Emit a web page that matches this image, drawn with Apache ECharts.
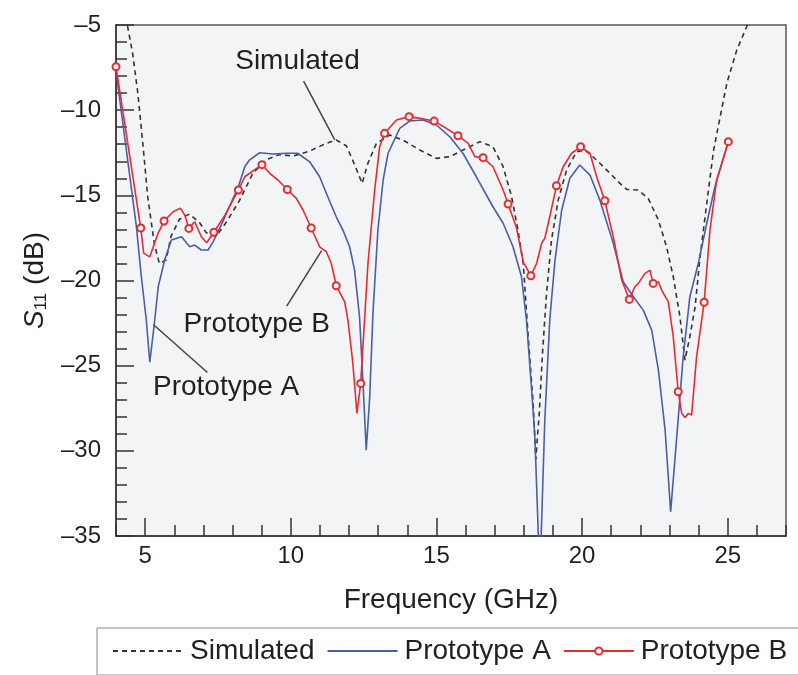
<!DOCTYPE html>
<html>
<head>
<meta charset="utf-8">
<script src="https://cdn.jsdelivr.net/npm/echarts@6/dist/echarts.min.js"></script>
<style>
html,body{margin:0;padding:0;background:#fff;}
#chart{width:798px;height:675px;}
</style>
</head>
<body>
<div id="chart"></div>
<script>
// ---- data (frequency GHz, S11 dB) ----
const simulated = [[4.2,-3.5],[4.40,-5.1],[4.57,-6.66],[4.75,-9.0],[4.92,-11.95],[5.09,-15.1],[5.32,-17.9],[5.49,-19.0],[5.72,-18.8],[5.89,-17.4],[6.18,-16.4],[6.52,-16.1],[6.87,-16.6],[7.10,-17.2],[7.44,-17.4],[7.78,-16.6],[8.24,-15.3],[8.70,-13.7],[9.16,-12.9],[9.62,-12.6],[10.07,-12.7],[10.65,-12.4],[11.22,-11.95],[11.56,-11.75],[11.91,-12.1],[12.19,-13.2],[12.45,-14.3],[12.65,-13.1],[12.94,-11.95],[13.40,-11.46],[13.85,-11.75],[14.43,-12.34],[15.0,-12.83],[15.46,-12.73],[15.91,-12.34],[16.49,-11.85],[16.94,-12.15],[17.29,-13.32],[17.58,-15.08],[17.80,-17.04],[17.98,-18.99],[18.15,-23.3],[18.32,-27.2],[18.41,-30.5],[18.53,-27.8],[18.64,-24.3],[18.78,-20.75],[18.95,-17.62],[19.18,-15.28],[19.47,-13.51],[19.81,-12.44],[20.10,-12.34],[20.5,-12.93],[20.96,-13.71],[21.30,-14.3],[21.53,-14.65],[21.93,-14.69],[22.27,-15.18],[22.62,-16.45],[22.90,-18.02],[23.13,-19.78],[23.36,-22.13],[23.53,-24.67],[23.70,-23.3],[23.88,-21.54],[24.05,-18.61],[24.28,-15.47],[24.51,-12.4],[24.68,-10.9],[24.97,-8.42],[25.31,-6.47],[25.65,-5.1],[25.9,-3.8]];

const protoA = [[4.0,-7.7],[4.70,-16.84],[4.87,-19.78],[5.04,-22.32],[5.16,-24.8],[5.33,-22.32],[5.45,-20.37],[5.67,-18.8],[5.90,-17.62],[6.25,-17.43],[6.53,-18.02],[6.70,-17.92],[6.93,-18.21],[7.16,-18.21],[7.34,-17.72],[7.74,-16.26],[8.20,-14.49],[8.42,-13.32],[8.58,-12.93],[8.93,-12.5],[9.38,-12.57],[9.85,-12.53],[10.24,-12.53],[10.65,-13.03],[10.99,-13.91],[11.27,-15.08],[11.56,-16.26],[11.79,-17.04],[12.02,-18.02],[12.19,-19.39],[12.36,-22.13],[12.48,-26.04],[12.59,-29.96],[12.71,-26.83],[12.82,-21.93],[12.99,-17.04],[13.17,-14.10],[13.34,-12.53],[13.74,-11.07],[14.08,-10.64],[14.54,-10.58],[15.0,-10.87],[15.46,-11.56],[15.91,-12.53],[16.37,-13.91],[16.94,-15.67],[17.29,-16.64],[17.63,-18.02],[17.92,-19.78],[18.09,-22.32],[18.26,-26.24],[18.38,-29.18],[18.55,-37.5],[18.72,-28.19],[18.89,-22.32],[19.07,-18.8],[19.30,-15.86],[19.58,-14.0],[19.92,-13.22],[20.27,-13.81],[20.61,-15.28],[21.07,-17.82],[21.41,-20.07],[21.76,-20.95],[22.10,-21.74],[22.39,-22.91],[22.62,-25.26],[22.85,-28.78],[23.04,-33.58],[23.25,-29.18],[23.47,-24.48],[23.70,-20.95],[23.99,-18.99],[24.28,-16.64],[24.56,-14.49],[25.02,-11.85]];

const protoB = [[4.0,-7.45],[4.85,-16.92],[4.95,-18.39],[5.16,-18.61],[5.45,-17.2],[5.65,-16.51],[5.96,-15.96],[6.21,-15.75],[6.36,-16.16],[6.50,-16.94],[6.70,-16.55],[6.93,-17.43],[7.11,-17.78],[7.36,-17.17],[7.74,-16.16],[8.20,-14.69],[8.42,-13.91],[9.01,-13.2],[9.27,-13.69],[9.62,-14.2],[9.88,-14.66],[10.19,-15.18],[10.42,-15.86],[10.70,-16.92],[10.99,-18.02],[11.22,-18.31],[11.39,-18.99],[11.56,-20.31],[11.85,-21.25],[11.96,-22.32],[12.13,-24.85],[12.27,-27.8],[12.40,-26.04],[12.65,-18.99],[12.88,-14.69],[13.05,-12.15],[13.22,-11.36],[13.63,-10.58],[14.06,-10.38],[14.43,-10.48],[14.92,-10.64],[15.34,-11.07],[15.74,-11.5],[16.09,-11.95],[16.32,-12.73],[16.60,-12.79],[16.94,-13.32],[17.29,-14.69],[17.46,-15.51],[17.75,-16.92],[17.98,-18.92],[18.24,-19.72],[18.44,-18.99],[18.61,-17.82],[18.72,-17.52],[18.89,-16.26],[19.12,-14.44],[19.35,-13.32],[19.64,-12.53],[19.95,-12.15],[20.27,-12.53],[20.50,-13.91],[20.78,-15.32],[21.07,-17.43],[21.36,-19.97],[21.62,-21.11],[21.81,-20.37],[21.93,-20.17],[22.16,-19.58],[22.33,-19.39],[22.44,-20.17],[22.62,-20.07],[22.73,-20.56],[22.96,-21.25],[23.13,-23.3],[23.30,-26.53],[23.42,-27.8],[23.53,-28.04],[23.65,-27.8],[23.76,-27.9],[23.93,-24.48],[24.19,-21.28],[24.39,-17.04],[24.62,-14.1],[25.02,-11.85]];

const protoBMarkerFreqs = [4.0,4.85,5.65,6.50,7.36,8.20,9.01,9.88,10.70,11.56,12.40,13.22,14.06,14.92,15.74,16.60,17.46,18.24,19.12,19.95,20.78,21.62,22.44,23.30,24.19,25.02];

const xMajorTicks = [5,10,15,20,25];
const seriesNames = ['Simulated','Prototype A','Prototype B'];

// annotation labels and leader lines (data coordinates)
const annotTexts = [
  {text:'Simulated', at:[10.23,-7.15]},
  {text:'Prototype B', at:[8.83,-22.55]},
  {text:'Prototype A', at:[7.78,-26.25]}
];
const annotLines = [
  [[10.44,-8.3],[11.51,-11.75]],
  [[11.06,-18.25],[9.86,-21.5]],
  [[5.29,-22.6],[7.14,-25.4]]
];

const FONT = "'Liberation Sans', Arial, Helvetica, sans-serif";
const TXT = '#231f20';
const markerSet = new Set(protoBMarkerFreqs);

const chart = echarts.init(document.getElementById('chart'), null, {renderer:'canvas'});

const option = {
  animation: false,
  backgroundColor: '#ffffff',
  textStyle: {fontFamily: FONT},
  grid: {left:116, top:25, right:12, bottom:139, show:true, backgroundColor:'#f3f4f6', borderColor:'#555', borderWidth:1.5},
  legend: {
    data: [
      {name: seriesNames[0], itemStyle:{opacity:0}},
      {name: seriesNames[1], itemStyle:{opacity:0}},
      {name: seriesNames[2]}
    ],
    left: 97, top: 628, width: 720,
    itemWidth: 70, itemHeight: 9, itemGap: 12,
    padding: [9, 30, 10, 15],
    borderColor: '#888', borderWidth: 1, borderRadius: 0,
    backgroundColor: '#fff',
    textStyle: {fontFamily: FONT, fontSize: 28, color: TXT, padding:[0,0,0,2]}
  },
  xAxis: [
    {
      type:'value', min:4, max:27, interval:1,
      name:'Frequency (GHz)', nameLocation:'middle', nameGap:50,
      nameTextStyle:{fontFamily:FONT, fontSize:28, color:TXT},
      axisLine:{show:true, onZero:false, lineStyle:{color:'#333', width:1.5}},
      axisTick:{show:true, inside:true, length:11, lineStyle:{color:'#333', width:1.5}},
      axisLabel:{show:false},
      splitLine:{show:false}
    },
    {
      type:'value', min:4, max:27, position:'bottom',
      axisLine:{show:false, onZero:false},
      axisTick:{show:true, inside:true, length:18, customValues:xMajorTicks, lineStyle:{color:'#333', width:1.5}},
      axisLabel:{show:true, customValues:xMajorTicks, margin:8, fontFamily:FONT, fontSize:24, color:TXT},
      splitLine:{show:false}
    }
  ],
  yAxis: {
    type:'value', min:-35, max:-5, interval:5,
    name:'{i|S}{s|11}{n| (dB)}', nameLocation:'middle', nameGap:62, nameRotate:90,
    nameTextStyle:{fontFamily:FONT, color:TXT, rich:{
      i:{fontFamily:FONT, fontSize:28, fontStyle:'italic', color:TXT, lineHeight:30, verticalAlign:'middle'},
      s:{fontFamily:FONT, fontSize:17, color:TXT, lineHeight:12, verticalAlign:'bottom'},
      n:{fontFamily:FONT, fontSize:28, color:TXT, lineHeight:30, verticalAlign:'middle'}
    }},
    axisLine:{show:true, onZero:false, lineStyle:{color:'#333', width:1.5}},
    axisTick:{show:true, inside:true, length:18, lineStyle:{color:'#333', width:1.5}},
    minorTick:{show:true, splitNumber:5, length:11, lineStyle:{color:'#333', width:1.5}},
    axisLabel:{show:true, showMinLabel:true, showMaxLabel:true, margin:15, fontFamily:FONT, fontSize:24, color:TXT,
      formatter: v => (v < 0 ? '\u2013' + Math.abs(v) : String(v))},
    splitLine:{show:false}, minorSplitLine:{show:false}
  },
  series: [
    {
      name: seriesNames[0], type:'line', xAxisIndex:0, yAxisIndex:0,
      data: simulated, symbol:'none', clip:true,
      lineStyle:{color:'#333', width:1.6, type:[5,4]}, itemStyle:{color:'#333'}, z:2
    },
    {
      name: seriesNames[1], type:'line', xAxisIndex:0, yAxisIndex:0,
      data: protoA, symbol:'none', clip:true,
      lineStyle:{color:'#4a5ea9', width:1.6}, itemStyle:{color:'#4a5ea9'}, z:3
    },
    {
      name: seriesNames[2], type:'line', xAxisIndex:0, yAxisIndex:0,
      data: protoB.map(p => ({value:p, symbol: markerSet.has(p[0]) ? 'emptyCircle' : 'none'})),
      symbol:'emptyCircle', symbolSize:7, showSymbol:true, clip:true,
      lineStyle:{color:'#ea2a30', width:1.6},
      itemStyle:{color:'#ea2a30', borderColor:'#ea2a30', borderWidth:1.5},
      z:4
    }
  ]
};

chart.setOption(option);

function px(pt){ return chart.convertToPixel({xAxisIndex:0, yAxisIndex:0}, pt); }
const graphics = [];
annotLines.forEach(l => {
  const a = px(l[0]), b = px(l[1]);
  graphics.push({type:'line', shape:{x1:a[0], y1:a[1], x2:b[0], y2:b[1]}, style:{stroke:'#444', lineWidth:1.5}, z:10});
});
annotTexts.forEach(t => {
  const p = px(t.at);
  graphics.push({type:'text', x:p[0], y:p[1], style:{text:t.text, fontFamily:FONT, fontSize:28, fill:TXT, align:'center', verticalAlign:'middle'}, z:10});
});
chart.setOption({graphic: graphics});
</script>
</body>
</html>
